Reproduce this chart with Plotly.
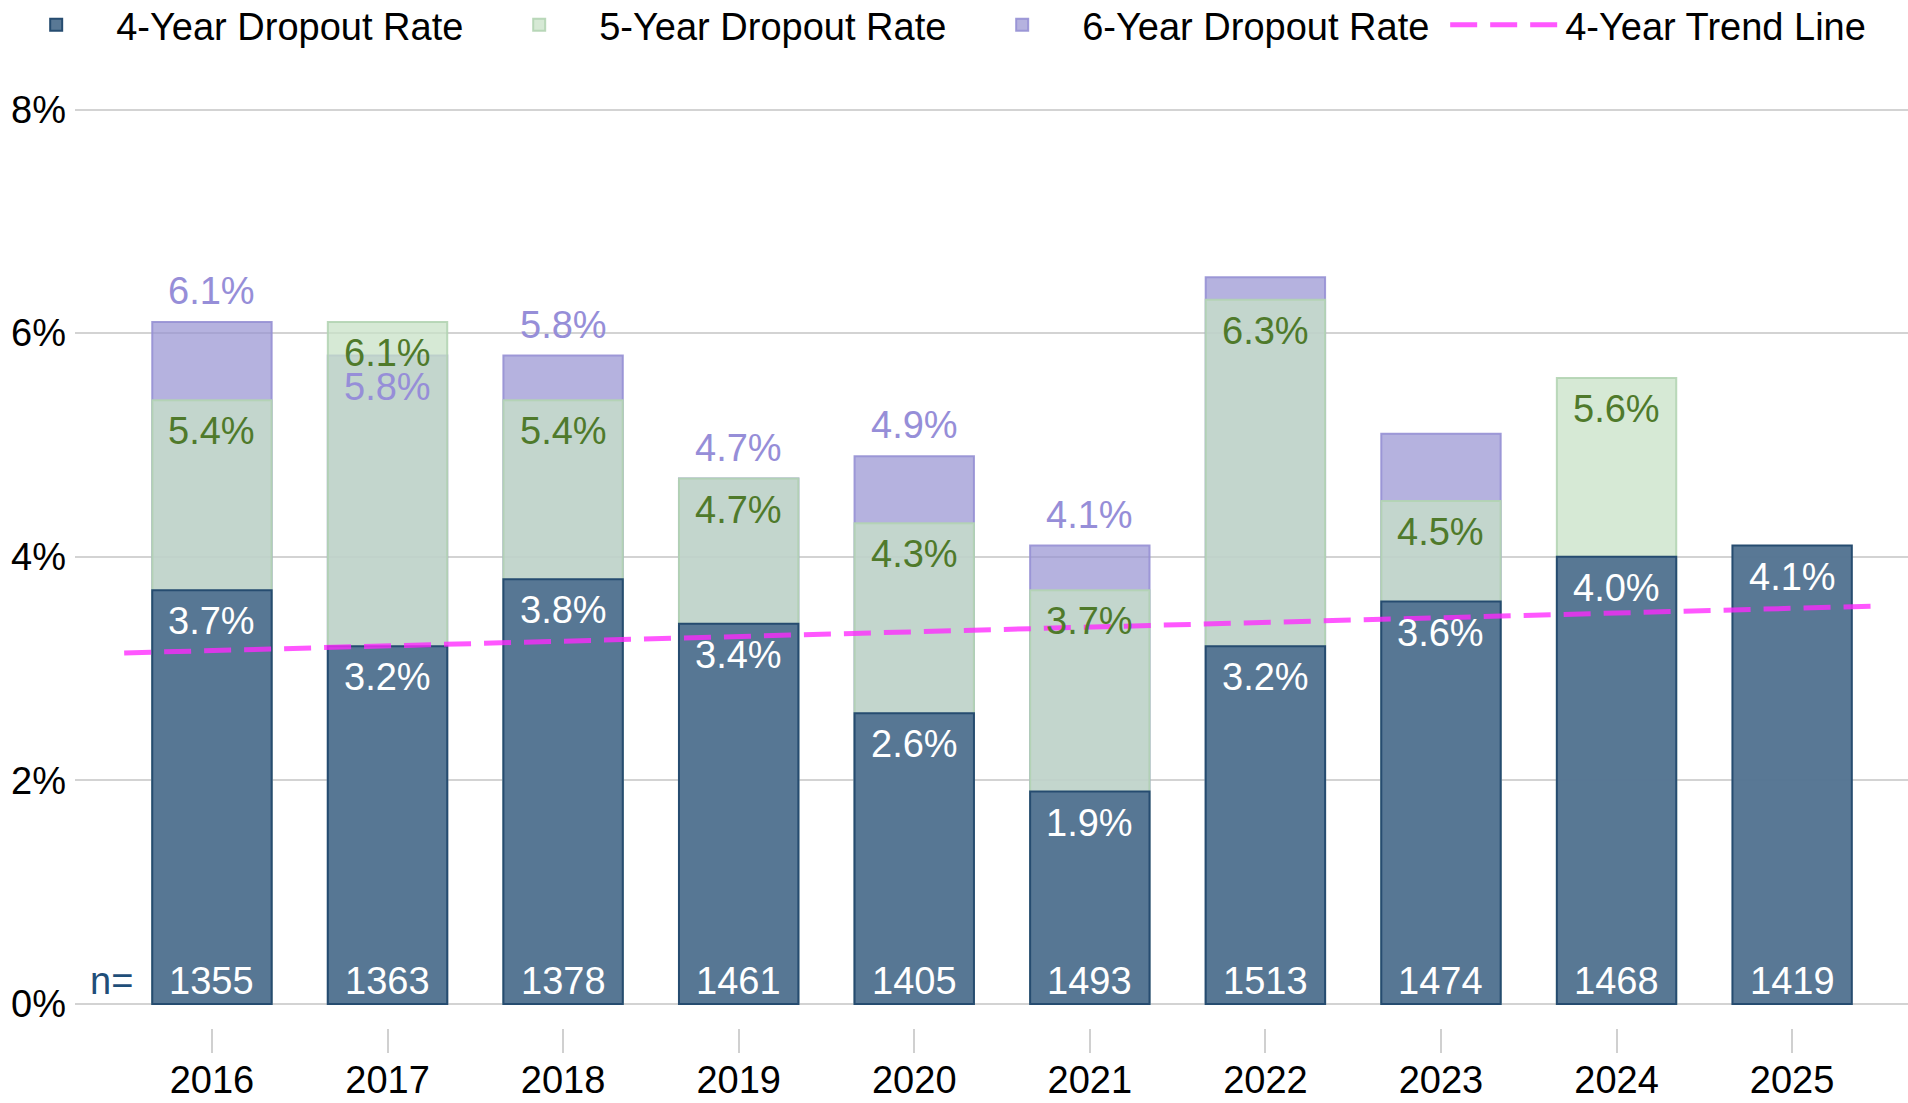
import plotly.graph_objects as go

# ---- data ----
years = [2016, 2017, 2018, 2019, 2020, 2021, 2022, 2023, 2024, 2025]
rate_4yr = [3.7, 3.2, 3.8, 3.4, 2.6, 1.9, 3.2, 3.6, 4.0, 4.1]
rate_5yr = [5.4, 6.1, 5.4, 4.7, 4.3, 3.7, 6.3, 4.5, 5.6, None]
rate_6yr = [6.1, 5.8, 5.8, 4.7, 4.9, 4.1, 6.5, 5.1, None, None]
show_6yr_label = [True, True, True, True, True, True, False, False, False, False]
cohort_n = [1355, 1363, 1378, 1461, 1405, 1493, 1513, 1474, 1468, 1419]
trend_x = [2015.5, 2025.5]
trend_y = [3.14, 3.56]
y_ticks = [0, 2, 4, 6, 8]

FONT = "Liberation Sans, Arial, Helvetica, sans-serif"
FS = 38
C4_FILL = "rgba(84,116,146,0.97)"
C4_LINE = "rgb(38,76,112)"
C5_FILL = "rgba(200,226,199,0.75)"
C5_LINE = "rgba(178,212,178,0.9)"
C6_FILL = "rgba(150,145,210,0.70)"
C6_LINE = "rgba(150,144,212,0.9)"
C5_TEXT = "#4f7a2b"
C6_TEXT = "#968ed8"
BAR_W = 0.68
OFF = 31

fig = go.Figure()
fig.add_trace(go.Bar(x=years, y=rate_6yr, name="6-Year Dropout Rate", width=BAR_W,
                     marker=dict(color=C6_FILL, line=dict(color=C6_LINE, width=2)),
                     legendrank=3))
fig.add_trace(go.Bar(x=years, y=rate_5yr, name="5-Year Dropout Rate", width=BAR_W,
                     marker=dict(color=C5_FILL, line=dict(color=C5_LINE, width=2)),
                     legendrank=2))
fig.add_trace(go.Bar(x=years, y=rate_4yr, name="4-Year Dropout Rate", width=BAR_W,
                     marker=dict(color=C4_FILL, line=dict(color=C4_LINE, width=2)),
                     legendrank=1))
fig.add_trace(go.Scatter(x=trend_x, y=trend_y, mode="lines", name="4-Year Trend Line",
                         line=dict(color="rgba(255,40,255,0.78)", width=5, dash="27px,13px"),
                         legendrank=4, legendwidth=320))

ann = []
for i, yr in enumerate(years):
    ann.append(dict(x=yr, y=rate_4yr[i], text=f"{rate_4yr[i]:.1f}%", yshift=-OFF,
                    font=dict(color="white", size=FS, family=FONT)))
    if rate_5yr[i] is not None:
        ann.append(dict(x=yr, y=rate_5yr[i], text=f"{rate_5yr[i]:.1f}%", yshift=-OFF,
                        font=dict(color=C5_TEXT, size=FS, family=FONT)))
    if rate_6yr[i] is not None and show_6yr_label[i]:
        inside = rate_5yr[i] is not None and rate_5yr[i] > rate_6yr[i]
        ann.append(dict(x=yr, y=rate_6yr[i], text=f"{rate_6yr[i]:.1f}%",
                        yshift=-OFF if inside else OFF,
                        font=dict(color=C6_TEXT, size=FS, family=FONT)))
    ann.append(dict(x=yr, y=0, text=str(cohort_n[i]), yanchor="bottom", yshift=0,
                    font=dict(color="white", size=FS, family=FONT)))
ann.append(dict(x=years[0] - 0.57, y=0, text="n=", yanchor="bottom", yshift=0,
                font=dict(color="#1f4e79", size=FS, family=FONT)))
for a in ann:
    a.setdefault("yanchor", "middle")
    a.update(xref="x", yref="y", showarrow=False)

fig.update_layout(
    width=1908, height=1103,
    barmode="overlay",
    plot_bgcolor="white", paper_bgcolor="white",
    margin=dict(l=75, r=0, t=104, b=75, autoexpand=False),
    font=dict(family=FONT, size=FS, color="black"),
    annotations=ann,
    showlegend=True,
    legend=dict(orientation="h", xref="paper", yref="paper",
                x=-0.043, y=1.0855, xanchor="left", yanchor="middle",
                font=dict(size=FS, family=FONT, color="black"),
                itemwidth=110,
                entrywidth=358, entrywidthmode="pixels",
                traceorder="normal", bgcolor="rgba(0,0,0,0)"),
)
fig.update_xaxes(range=[2015.22, 2025.66], tickvals=years, ticktext=[str(y) for y in years],
                 ticks="outside", ticklen=24, tickwidth=2, tickcolor="#d0d0d0",
                 showgrid=False, zeroline=False, showline=False, ticklabelstandoff=-6,
                 tickfont=dict(size=FS, family=FONT, color="black"))
fig.update_yaxes(range=[-0.215, 8.05], tickvals=y_ticks, ticktext=[f"{v}%" for v in y_ticks],
                 showgrid=True, gridcolor="#d3d3d3", gridwidth=2,
                 zeroline=True, zerolinecolor="#d3d3d3", zerolinewidth=2,
                 showline=False, ticks="", ticklabelstandoff=8,
                 tickfont=dict(size=FS, family=FONT, color="black"))

fig.write_html("out.html", config={"displayModeBar": False},
               post_script="document.body.style.margin='0';document.body.style.overflow='hidden';")
